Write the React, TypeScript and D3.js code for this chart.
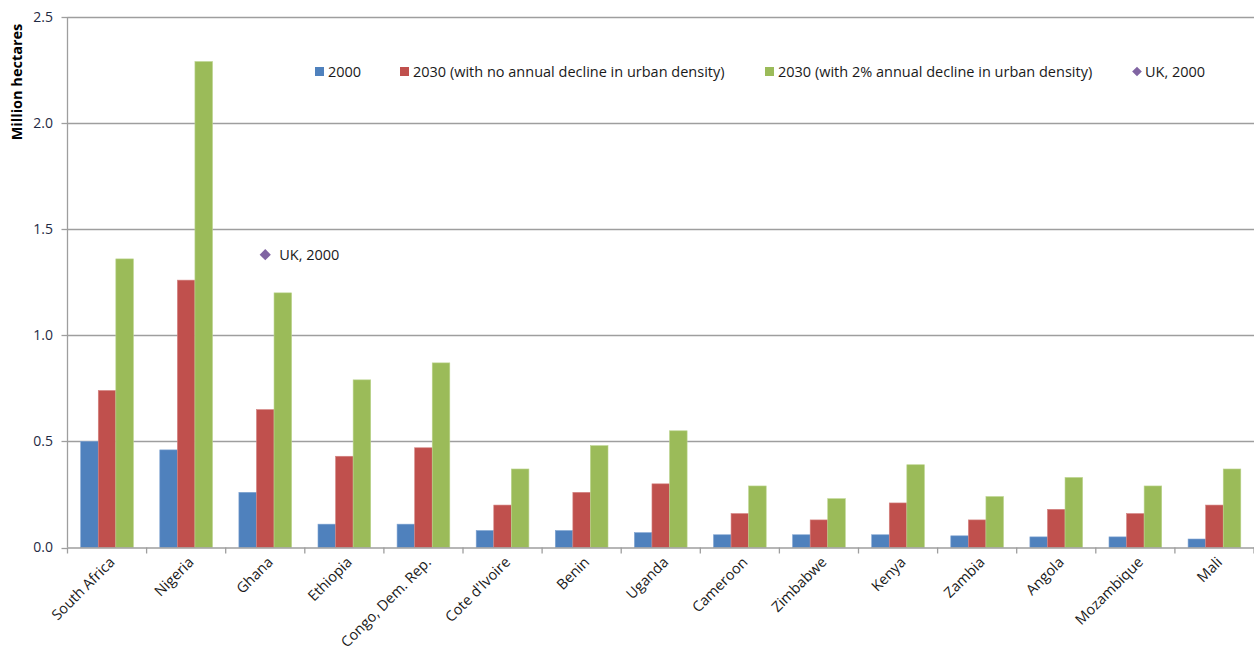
import React from "react";
import * as d3 from "d3";

const countries = [
  "South Africa", "Nigeria", "Ghana", "Ethiopia", "Congo, Dem. Rep.",
  "Cote d'Ivoire", "Benin", "Uganda", "Cameroon", "Zimbabwe",
  "Kenya", "Zambia", "Angola", "Mozambique", "Mali",
];
const area2000 = [0.5, 0.46, 0.26, 0.11, 0.11, 0.08, 0.08, 0.07, 0.06, 0.06, 0.06, 0.055, 0.05, 0.05, 0.04];
const area2030NoDecline = [0.74, 1.26, 0.65, 0.43, 0.47, 0.2, 0.26, 0.3, 0.16, 0.13, 0.21, 0.13, 0.18, 0.16, 0.2];
const area2030Decline = [1.36, 2.29, 1.2, 0.79, 0.87, 0.37, 0.48, 0.55, 0.29, 0.23, 0.39, 0.24, 0.33, 0.29, 0.37];
const ukCategory = "Ghana";
const uk2000 = 1.38;
const yTicks = [0, 0.5, 1.0, 1.5, 2.0, 2.5];

const seriesNames = [
  "2000",
  "2030 (with no annual decline in urban density)",
  "2030 (with 2% annual decline in urban density)",
];
const seriesValues = [area2000, area2030NoDecline, area2030Decline];
const seriesColors = ["#4F81BD", "#C0504D", "#9BBB59"];
const seriesStroke = ["#7FA3D1", "#D48482", "#BBD48E"];
const ukColor = "#8064A2";

const W = 1254;
const H = 664;
const FONT = "'Open Sans', 'Liberation Sans', sans-serif";
const FS = 14.5;

export default function App() {
  const left = 67.5;
  const right = 1254;
  const top = 17;
  const bottom = 547.5;

  const x = d3.scaleBand<string>().domain(countries).range([left, right]).paddingInner(0).paddingOuter(0);
  const bw = x.bandwidth();
  const groupPad = 13.2 / 79.13;
  const xInner = d3
    .scaleBand<number>()
    .domain([0, 1, 2])
    .range([bw * groupPad, bw * (1 - groupPad)]);
  const y = d3.scaleLinear().domain([0, 2.5]).range([bottom, top]);

  const boundaries = d3.range(countries.length + 1).map((i) => left + i * bw);

  const diamond = d3.symbol().type(d3.symbolDiamond2).size(80)() as string;
  const legendDiamond = d3.symbol().type(d3.symbolDiamond2).size(60)() as string;

  const legendItems = [
    { x: 315, label: seriesNames[0], color: seriesColors[0] },
    { x: 400, label: seriesNames[1], color: seriesColors[1] },
    { x: 765, label: seriesNames[2], color: seriesColors[2] },
  ];

  return (
    <svg
      width={W}
      height={H}
      style={{ position: "absolute", left: 0, top: 0, background: "#fff" }}
      fontFamily={FONT}
    >
      {/* gridlines */}
      {yTicks.slice(1).map((t) => (
        <line key={"g" + t} x1={left} x2={right} y1={Math.round(y(t)) + 0.5} y2={Math.round(y(t)) + 0.5} stroke="#9E9E9E" strokeWidth={1.3} />
      ))}
      {/* y axis */}
      <line x1={left} x2={left} y1={top} y2={bottom} stroke="#9E9E9E" strokeWidth={1.3} />
      {yTicks.map((t) => (
        <g key={"yt" + t}>
          <line x1={left - 6} x2={left} y1={Math.round(y(t)) + 0.5} y2={Math.round(y(t)) + 0.5} stroke="#9E9E9E" strokeWidth={1.3} />
          <text x={53} y={y(t)} dy="0.35em" textAnchor="end" fontSize={14} fill="#1F2A44">
            {t.toFixed(1)}
          </text>
        </g>
      ))}
      <text
        transform={`translate(22,82) rotate(-90)`}
        textAnchor="middle"
        fontSize={14.5}
        fontWeight="bold"
        fill="#000"
      >
        Million  hectares
      </text>

      {/* bars */}
      {seriesValues.map((vals, s) =>
        vals.map((v, i) => (
          <rect
            key={`b${s}-${i}`}
            x={(x(countries[i]) as number) + (xInner(s) as number)}
            y={y(v)}
            width={xInner.bandwidth()}
            height={bottom - y(v)}
            fill={seriesColors[s]}
            stroke={seriesStroke[s]}
            strokeWidth={0.6}
          />
        ))
      )}

      {/* x axis */}
      <line x1={left} x2={right} y1={bottom + 0.5} y2={bottom + 0.5} stroke="#9E9E9E" strokeWidth={1.3} />
      {boundaries.map((bx, i) => (
        <line key={"xt" + i} x1={bx} x2={bx} y1={bottom} y2={bottom + 6} stroke="#9E9E9E" strokeWidth={1.3} />
      ))}
      {countries.map((c) => {
        const cx = (x(c) as number) + bw / 2 + 5;
        const cy = bottom + 12;
        return (
          <text
            key={"xl" + c}
            transform={`translate(${cx},${cy}) rotate(-45)`}
            textAnchor="end"
            dy="0.35em"
            fontSize={FS}
            fill="#1a1a1a"
          >
            {c}
          </text>
        );
      })}

      {/* UK point */}
      <path
        d={diamond}
        transform={`translate(${(x(ukCategory) as number) + bw / 2},${y(uk2000)})`}
        fill={ukColor}
      />
      <text x={(x(ukCategory) as number) + bw / 2 + 14} y={y(uk2000)} dy="0.35em" fontSize={FS} fill="#1a1a1a">
        UK, 2000
      </text>

      {/* legend */}
      {legendItems.map((it) => (
        <g key={"lg" + it.label}>
          <rect x={it.x} y={67} width={9} height={9} fill={it.color} />
          <text x={it.x + 13} y={72} dy="0.35em" fontSize={FS} fill="#1a1a1a">
            {it.label}
          </text>
        </g>
      ))}
      <path d={legendDiamond} transform="translate(1137,71.5)" fill={ukColor} />
      <text x={1145} y={72} dy="0.35em" fontSize={FS} fill="#1a1a1a">
        UK, 2000
      </text>
    </svg>
  );
}
